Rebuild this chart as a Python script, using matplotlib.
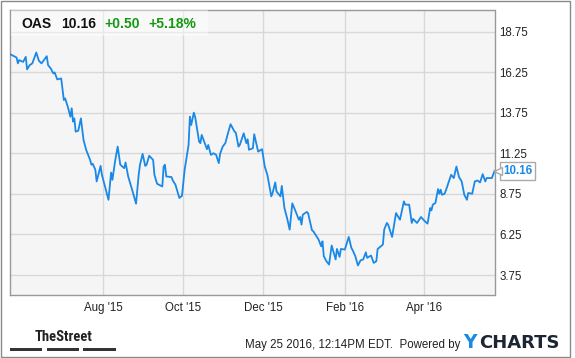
import numpy as np
import matplotlib
matplotlib.use("Agg")
import matplotlib.pyplot as plt
import matplotlib.dates as mdates
import matplotlib.transforms as mtransforms
from matplotlib.patches import Rectangle

# OAS daily close, days counted from 2015-05-22
start = np.datetime64("2015-05-22")
days = [0, 5, 6, 7, 10, 12, 13, 15, 17, 20, 22, 24, 28, 29, 31, 33, 34, 36, 39, 41,
        42, 44, 46, 47, 48, 49, 50, 52, 54, 56, 58, 61, 62, 63, 65, 66, 69, 70, 74, 75,
        77, 78, 80, 82, 84, 87, 88, 90, 93, 96, 98, 99, 101, 103, 104, 106, 109, 110, 112, 116,
        117, 118, 119, 123, 124, 126, 129, 131, 133, 136, 137, 138, 140, 141, 144, 145, 146, 150, 151, 153,
        155, 157, 159, 160, 162, 164, 166, 168, 171, 172, 174, 175, 178, 180, 181, 182, 185, 186, 189, 192,
        194, 196, 199, 200, 202, 203, 206, 207, 209, 211, 213, 215, 217, 220, 221, 222, 223, 226, 227, 230,
        231, 235, 237, 238, 239, 241, 243, 245, 248, 249, 251, 252, 255, 258, 260, 261, 263, 265, 267, 269,
        271, 272, 274, 275, 277, 279, 280, 282, 284, 285, 287, 288, 291, 294, 297, 300, 301, 304, 306, 307,
        310, 313, 316, 318, 320, 321, 322, 324, 326, 327, 328, 329, 331, 333, 334, 336, 338, 340, 342, 344,
        346, 348, 349, 352, 354, 356, 358, 360, 362, 363, 367, 369]
prices = [17.37, 17.16, 16.80, 17.00, 16.89, 17.20, 16.43, 16.69, 16.80, 17.47, 16.96, 16.80, 17.24, 16.69, 16.49, 16.18, 16.24, 15.81, 15.87, 14.54,
          14.64, 14.13, 13.51, 14.03, 13.21, 13.41, 12.59, 12.65, 13.41, 12.08, 11.47, 10.85, 10.55, 10.61, 10.24, 9.52, 10.48, 9.93, 8.70, 8.39,
          10.07, 9.62, 10.75, 11.67, 10.55, 10.34, 10.69, 9.83, 9.01, 8.15, 9.93, 10.55, 11.22, 10.48, 10.55, 11.10, 10.85, 9.93, 9.38, 9.21,
          10.44, 10.55, 9.83, 9.79, 9.58, 9.32, 8.50, 8.64, 10.24, 11.77, 13.51, 13.00, 13.76, 13.51, 11.98, 11.88, 12.39, 11.51, 11.77, 11.16,
          11.26, 11.16, 10.65, 11.22, 11.67, 11.88, 12.49, 13.05, 12.59, 12.53, 11.67, 11.77, 12.49, 11.88, 12.12, 11.47, 11.57, 12.43, 11.36, 11.51,
          10.44, 9.93, 8.60, 8.81, 9.46, 8.90, 8.60, 9.25, 7.88, 7.27, 6.55, 8.17, 7.78, 7.16, 7.33, 6.86, 7.47, 7.64, 7.57, 6.51,
          6.45, 5.94, 5.52, 5.83, 4.91, 4.60, 4.40, 5.57, 4.71, 5.36, 4.87, 5.36, 5.32, 6.10, 5.42, 5.28, 4.91, 4.34, 4.66, 4.71,
          5.15, 4.81, 4.91, 4.95, 4.50, 4.60, 5.36, 5.49, 5.63, 6.55, 6.96, 6.86, 6.10, 7.57, 7.16, 8.29, 8.09, 8.09, 6.96, 7.21,
          6.96, 7.33, 7.06, 6.92, 7.88, 7.74, 8.09, 8.19, 9.05, 8.76, 9.01, 8.70, 8.76, 9.21, 9.46, 9.93, 9.73, 10.44, 9.79, 9.52,
          8.70, 8.39, 8.81, 8.76, 9.52, 9.58, 9.46, 9.97, 9.52, 9.73, 9.73, 10.16]

ticker = "OAS"
change = "+0.50"
change_pct = "+5.18%"
y_ticks = [3.75, 6.25, 8.75, 11.25, 13.75, 16.25, 18.75]
x_ticks = ["2015-08-01", "2015-10-01", "2015-12-01", "2016-02-01", "2016-04-01"]
stamp = "May 25 2016, 12:14PM EDT.  Powered by"

blue = "#1a88e6"
green = "#129912"
font = ["Liberation Sans", "DejaVu Sans"]
plt.rcParams["font.family"] = font

W, H = 575, 358


def px(x, y):
    return x / W, 1 - y / H


dates = start + np.array(days).astype("timedelta64[D]")

fig = plt.figure(figsize=(W / 100, H / 100), dpi=100)
fig.patch.set_facecolor("white")
ax = fig.add_axes([10 / W, 1 - 295 / H, 484.5 / W, 285 / H])
ax.set_facecolor("#f5f5f5")

ax.plot(dates, prices, color=blue, lw=1.3, zorder=3)

ax.set_xlim(np.datetime64("2015-05-22"), np.datetime64("2016-05-25"))
ax.set_ylim(2.52, 20.09)

ax.set_yticks(y_ticks)
ax.yaxis.tick_right()
ax.yaxis.set_major_formatter(plt.FormatStrFormatter("%.2f"))
ax.set_xticks([np.datetime64(d) for d in x_ticks])
ax.xaxis.set_major_formatter(mdates.DateFormatter("%b '%y"))
ax.tick_params(axis="both", length=0, labelsize=8.3, colors="#222222")
ax.tick_params(axis="y", pad=3.5)
ax.tick_params(axis="x", pad=4.8)
ax.grid(True, color="#d8d8d8", lw=1)
ax.set_axisbelow(True)
for s in ax.spines.values():
    s.set_color("#999999")
    s.set_linewidth(1)

# last value tag
ax.annotate(f"{prices[-1]:.2f}", xy=(dates[-1], prices[-1]), xytext=(6.2, 0),
            textcoords="offset points", ha="left", va="center", color=blue,
            fontsize=8.3, fontweight="bold", annotation_clip=False, zorder=5,
            bbox=dict(boxstyle="square,pad=0.25", fc="white", ec="#aaaaaa", lw=1))
tri = mtransforms.offset_copy(ax.transData, fig=fig, x=3.2, y=0, units="dots")
ax.plot([dates[-1]], [prices[-1]], marker="<", ms=5.5, mfc="white", mec="#aaaaaa",
        mew=1, transform=tri, clip_on=False, zorder=6)

# header
fig.patches.append(Rectangle(px(10.5, 36), 197.5 / W, 26 / H, transform=fig.transFigure,
                             fc="white", ec="none", alpha=0.45, zorder=1))
hy = 23.5
fig.text(*px(21.7, hy), ticker, ha="left", va="center", fontsize=10, fontweight="bold", color="#111111")
fig.text(*px(60.7, hy), f"{prices[-1]:.2f}", ha="left", va="center", fontsize=10, fontweight="bold", color="#111111")
fig.text(*px(104, hy), change, ha="left", va="center", fontsize=10, fontweight="bold", color=green)
fig.text(*px(148.3, hy), change_pct, ha="left", va="center", fontsize=10, fontweight="bold", color=green)

# footer
fig.text(*px(63.3, 341), "TheStreet", ha="center", va="baseline", fontsize=10.5, fontweight="bold",
         family=["Roboto Condensed", "Liberation Sans Narrow", "Liberation Sans"],
         color="#222222")
for x0, x1 in [(10, 42.3), (46.7, 79), (83.3, 115.7)]:
    fig.patches.append(Rectangle(px(x0, 350.7), (x1 - x0) / W, 2.6 / H,
                                 transform=fig.transFigure, fc="#333333", ec="none"))
fig.text(*px(460, 348.3), stamp, ha="right", va="baseline", fontsize=8.3, color="#222222")
fig.text(*px(463, 348.3), "Y", ha="left", va="baseline", fontsize=13.5, fontweight="bold",
         family="DejaVu Sans", color=blue)
fig.text(*px(479.3, 348.3), "CHARTS", ha="left", va="baseline", fontsize=13, fontweight="bold",
         family="DejaVu Sans", color="#1c2533")

# outer border
fig.patches.append(Rectangle(px(0.5, 356.7), 569.5 / W, 356 / H, transform=fig.transFigure,
                             fill=False, ec="#8a8a8a", lw=1))

fig.savefig("out.png", dpi=100)
